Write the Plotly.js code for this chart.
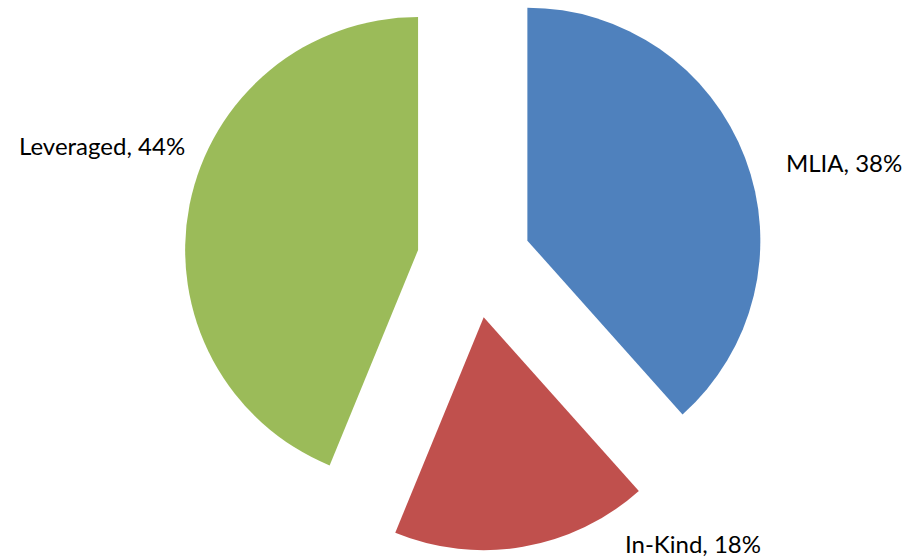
<!DOCTYPE html>
<html>
<head>
<meta charset="utf-8">
<script src="https://cdn.plot.ly/plotly-3.0.1.min.js"></script>
<style>
html, body { margin: 0; padding: 0; background: #fff; overflow: hidden; width: 903px; height: 558px; }
#chart { position: absolute; left: 0; top: -29px; width: 903px; height: 620px; }
</style>
</head>
<body>
<div id="chart"></div>
<script>
const labels = ["MLIA", "In-Kind", "Leveraged"];
const values = [38.4, 17.8, 43.8];
const colors = ["#4F81BD", "#C0504D", "#9BBB59"];
const pulls = [0.245, 0.245, 0.245];

const total = values.reduce((a, b) => a + b, 0);
const texts = labels.map((l, i) => l + ", " + Math.round(values[i] / total * 100) + "%");

// label anchor positions (page pixels), converted to paper coords
const H = 620, TOP = -29, W = 903;
const labelPos = [
  {x: 784, y: 162, anchor: "left"},
  {x: 623, y: 543, anchor: "left"},
  {x: 187, y: 146, anchor: "right"}
];
const annotations = labelPos.map((p, i) => ({
  xref: "paper", yref: "paper",
  x: p.x / W, y: 1 - (p.y - TOP) / H,
  xanchor: p.anchor, yanchor: "middle",
  text: texts[i], showarrow: false,
  font: {family: "Lato, 'Liberation Sans', sans-serif", size: 24, color: "#000"}
}));

const trace = {
  type: "pie",
  labels: labels,
  values: values,
  sort: false,
  direction: "clockwise",
  rotation: 0,
  pull: pulls,
  marker: {colors: colors, line: {width: 0}},
  textinfo: "none",
  hoverinfo: "label+percent",
  domain: {x: [0.05, 1.0], y: [0.0645, 1.0]},
  showlegend: false
};

Plotly.newPlot("chart", [trace], {
  width: W, height: H,
  margin: {l: 0, r: 0, t: 0, b: 0},
  paper_bgcolor: "#fff",
  showlegend: false,
  annotations: annotations
}, {displayModeBar: false, staticPlot: true});
</script>
</body>
</html>
